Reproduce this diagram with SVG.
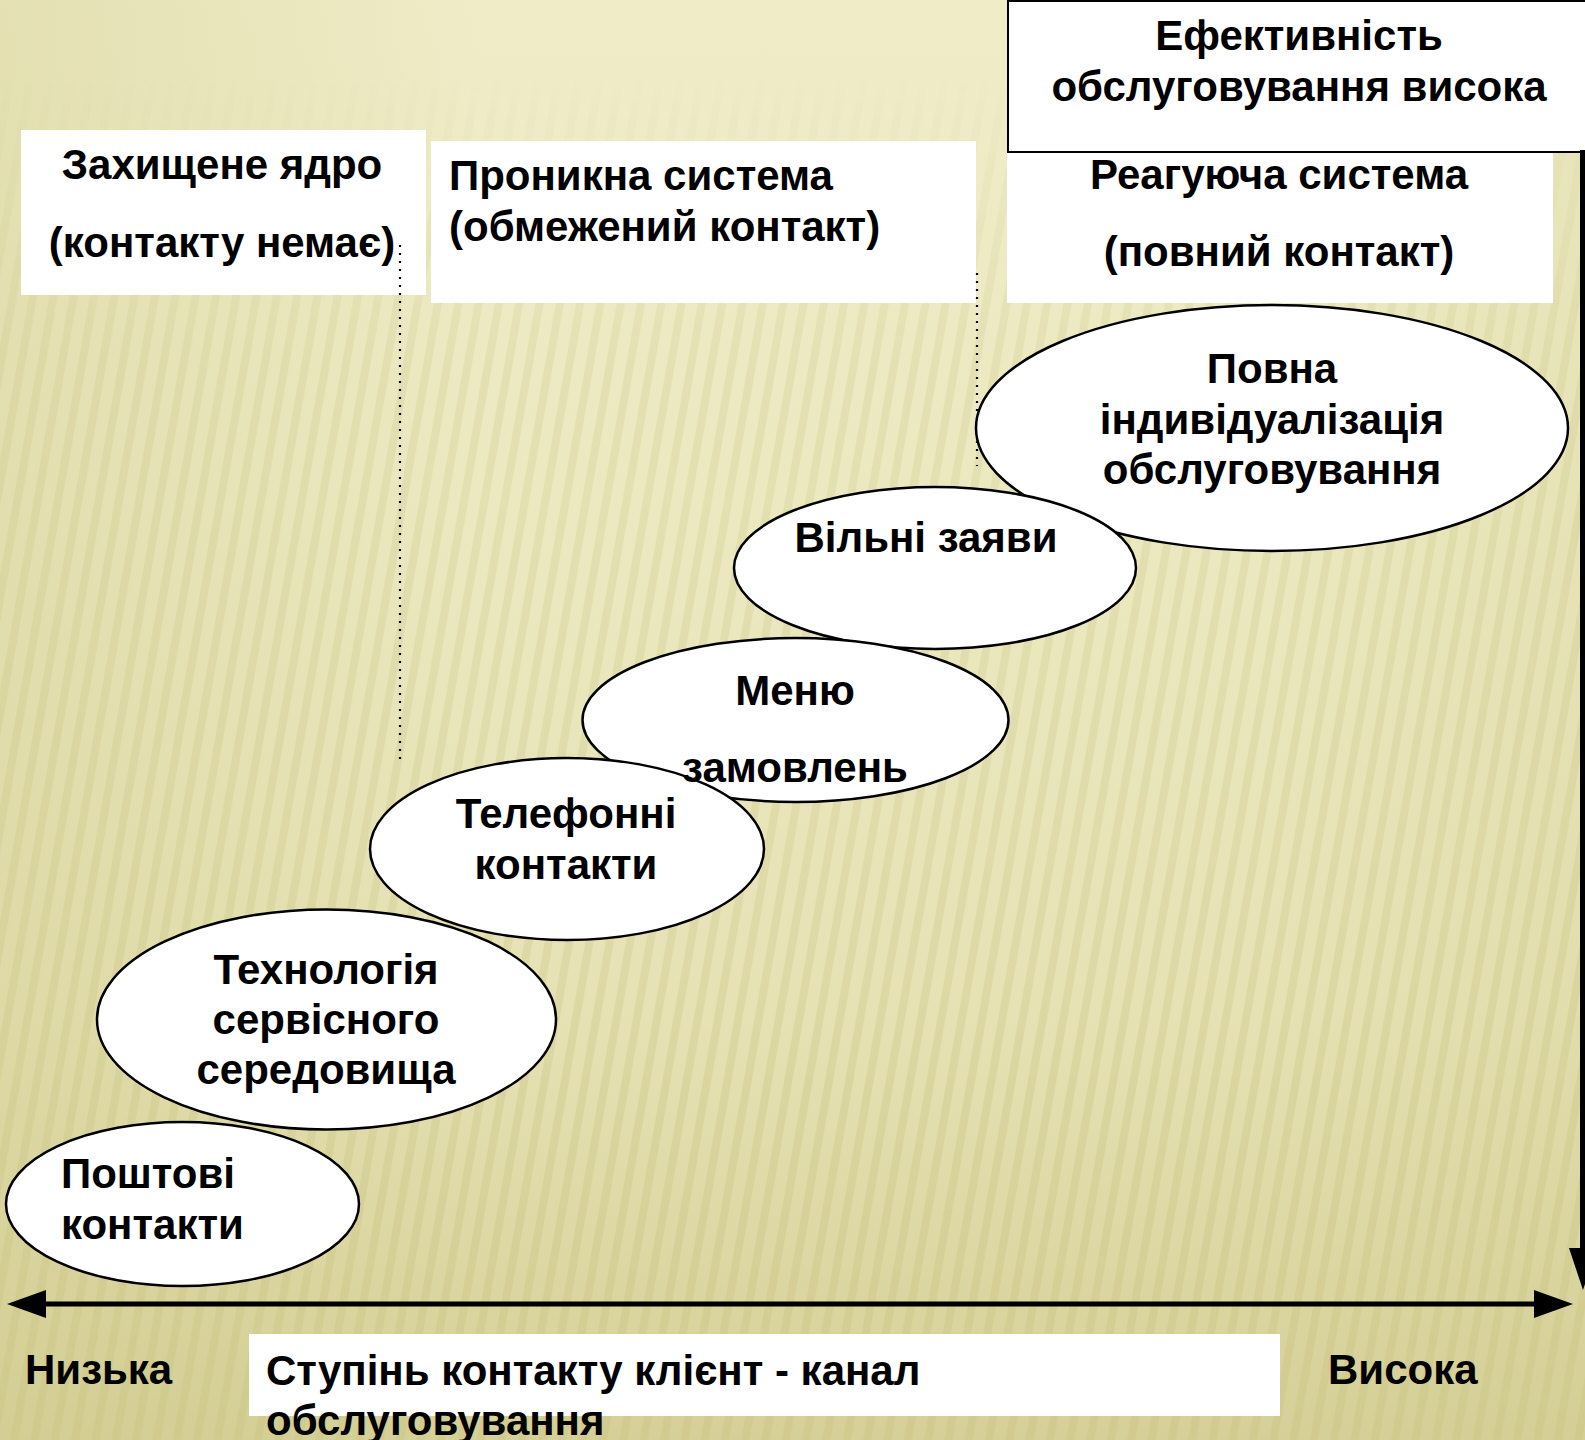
<svg xmlns="http://www.w3.org/2000/svg" width="1585" height="1440" viewBox="0 0 1585 1440">
<defs>
<linearGradient id="bg" x1="0" y1="0" x2="0" y2="1">
<stop offset="0" stop-color="#EFECC7"/>
<stop offset="0.35" stop-color="#ECE9C1"/>
<stop offset="0.7" stop-color="#E6E2B4"/>
<stop offset="1" stop-color="#D5D097"/>
</linearGradient>
<linearGradient id="side" x1="0" y1="0" x2="1" y2="0">
<stop offset="0" stop-color="#CFCA8C" stop-opacity="0.35"/>
<stop offset="0.3" stop-color="#CFCA8C" stop-opacity="0"/>
<stop offset="0.8" stop-color="#CFCA8C" stop-opacity="0"/>
<stop offset="1" stop-color="#CFCA8C" stop-opacity="0.2"/>
</linearGradient>
<pattern id="stripes" width="20" height="40" patternUnits="userSpaceOnUse" patternTransform="rotate(10)">
<rect x="0" y="0" width="8" height="40" fill="#CBC585"/>
</pattern>
<linearGradient id="fade" x1="0" y1="0" x2="0" y2="1">
<stop offset="0.05" stop-color="#fff" stop-opacity="0"/>
<stop offset="0.25" stop-color="#fff" stop-opacity="0.25"/>
<stop offset="0.6" stop-color="#fff" stop-opacity="0.3"/>
<stop offset="1" stop-color="#fff" stop-opacity="0.45"/>
</linearGradient>
<mask id="m"><rect width="1585" height="1440" fill="url(#fade)"/></mask>
</defs>
<style>
text{font-family:"Liberation Sans",Arial,sans-serif;font-weight:bold;font-size:42px;fill:#000}
.c{text-anchor:middle}
.box{fill:#fff}
.node ellipse{fill:#fff;stroke:#000;stroke-width:2.5}
.dot{stroke:#000;stroke-width:2.2;stroke-dasharray:2 6;fill:none}
.axis{stroke:#000;stroke-width:5;fill:none}
</style>
<rect width="1585" height="1440" fill="url(#bg)"/>
<rect width="1585" height="1440" fill="url(#side)"/>
<rect width="1585" height="1440" fill="url(#stripes)" mask="url(#m)"/>

<g id="box-core">
<rect class="box" x="21" y="130" width="405" height="165"/>
<text class="c" x="222" y="179">Захищене ядро</text>
<text class="c" x="222" y="257">(контакту немає)</text>
</g>
<g id="box-permeable">
<rect class="box" x="431" y="141" width="545" height="162"/>
<text x="449" y="190">Проникна система</text>
<text x="449" y="241">(обмежений контакт)</text>
</g>
<g id="box-reactive">
<rect class="box" x="1007" y="150" width="546" height="153"/>
<text class="c" x="1279" y="189">Реагуюча система</text>
<text class="c" x="1279" y="266">(повний контакт)</text>
</g>
<g id="box-efficiency">
<rect x="1008" y="1" width="590" height="151" fill="#fff" stroke="#000" stroke-width="2"/>
<text class="c" x="1299" y="50">Ефективність</text>
<text class="c" x="1299" y="101">обслуговування висока</text>
</g>

<g id="connectors">
<line class="dot" x1="400" y1="245" x2="400" y2="760"/>
<line class="dot" x1="977" y1="273" x2="977" y2="466"/>
<line class="axis" x1="40" y1="1304" x2="1540" y2="1304"/>
<polygon points="7,1304 46,1290 46,1318" fill="#000"/>
<polygon points="1573,1304 1534,1290 1534,1318" fill="#000"/>
<line class="axis" x1="1582.5" y1="150" x2="1582.5" y2="1252"/>
<polygon points="1569,1248 1597,1248 1583,1290" fill="#000"/>
</g>

<g id="node-full" class="node">
<ellipse cx="1272" cy="428" rx="296" ry="123"/>
<text class="c" x="1272" y="383">Повна</text>
<text class="c" x="1272" y="434">індивідуалізація</text>
<text class="c" x="1272" y="484">обслуговування</text>
</g>
<g id="node-free" class="node">
<ellipse cx="935" cy="568" rx="201" ry="81"/>
<text class="c" x="926" y="552">Вільні заяви</text>
</g>
<g id="node-menu" class="node">
<ellipse cx="795.5" cy="720" rx="213" ry="82"/>
<text class="c" x="795" y="705">Меню</text>
</g>
<g id="node-phone" class="node">
<ellipse cx="567" cy="849" rx="197" ry="91"/>
<text class="c" x="566" y="828">Телефонні</text>
<text class="c" x="566" y="879">контакти</text>
</g>
<g id="node-menu-text">
<text class="c" x="795" y="782">замовлень</text>
</g>
<g id="node-tech" class="node">
<ellipse cx="326.5" cy="1019.5" rx="229.5" ry="110"/>
<text class="c" x="326" y="984">Технологія</text>
<text class="c" x="326" y="1034">сервісного</text>
<text class="c" x="326" y="1084">середовища</text>
</g>
<g id="node-mail" class="node">
<ellipse cx="182.5" cy="1204" rx="176.5" ry="82"/>
<text x="61" y="1188">Поштові</text>
<text x="61" y="1239">контакти</text>
</g>

<g id="axis-labels">
<text x="25" y="1384">Низька</text>
<text x="1328" y="1384">Висока</text>
<rect class="box" x="249" y="1334" width="1031" height="82"/>
<text x="266" y="1385">Ступінь контакту клієнт - канал</text>
<text x="266" y="1435">обслуговування</text>
</g>
</svg>
